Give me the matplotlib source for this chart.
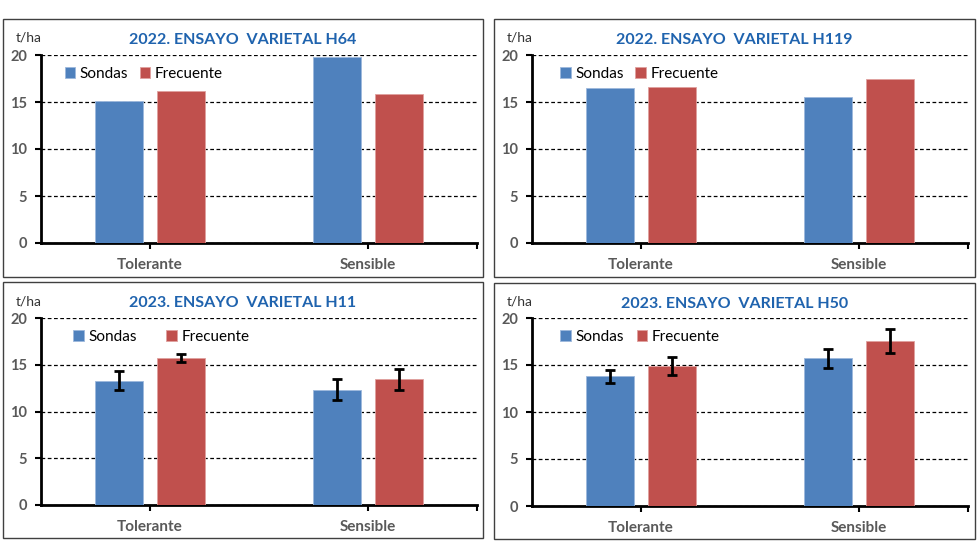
import matplotlib.pyplot as plt
import numpy as np
from matplotlib.patches import Rectangle

plt.rcParams['font.family'] = ['Lato', 'DejaVu Sans']

categorias = ['Tolerante', 'Sensible']
series = ['Sondas', 'Frecuente']
titulos = ['2022. ENSAYO  VARIETAL H64', '2022. ENSAYO  VARIETAL H119',
           '2023. ENSAYO  VARIETAL H11', '2023. ENSAYO  VARIETAL H50']

# rendimiento t/ha (Tolerante, Sensible)
h64_sondas = [15.1, 19.75]
h64_frecuente = [16.2, 15.8]
h119_sondas = [16.5, 15.55]
h119_frecuente = [16.6, 17.45]
h11_sondas = [13.3, 12.35]
h11_frecuente = [15.75, 13.45]
h50_sondas = [13.8, 15.7]
h50_frecuente = [14.9, 17.55]

# errores (solo 2023)
h11_err_sondas = [1.0, 1.15]
h11_err_frecuente = [0.45, 1.12]
h50_err_sondas = [0.7, 1.03]
h50_err_frecuente = [0.95, 1.3]

datos = [
    (h64_sondas, h64_frecuente, None, None),
    (h119_sondas, h119_frecuente, None, None),
    (h11_sondas, h11_frecuente, h11_err_sondas, h11_err_frecuente),
    (h50_sondas, h50_frecuente, h50_err_sondas, h50_err_frecuente),
]

azul = '#4F81BD'
rojo = '#C0504D'
gris = '#595959'
azul_titulo = '#1F63AE'

fig = plt.figure(figsize=(9.8, 5.6), dpi=100)
W, H = 980, 560

# posiciones en pixeles: caja del panel y ejes (x0, y0, x1, y1)
cajas = [(3, 19, 483, 277), (494, 19, 975, 277), (3, 282, 483, 538), (494, 283, 975, 539)]
ejes = [(41, 55, 477, 243), (532, 55, 968, 243), (41, 318, 477, 505), (532, 318, 968, 506)]
leyenda_x = [0.04, 0.05, 0.06, 0.05]
leyenda_esp = [0.75, 0.75, 1.9, 0.85]

x = np.arange(len(categorias))
ancho = 0.22
desp = 0.142

for i in range(4):
    bx0, by0, bx1, by1 = cajas[i]
    fig.patches.append(Rectangle((bx0 / W, 1 - by1 / H), (bx1 - bx0) / W, (by1 - by0) / H,
                                 transform=fig.transFigure, fill=False,
                                 edgecolor='#404040', linewidth=1.0))
    ex0, ey0, ex1, ey1 = ejes[i]
    ax = fig.add_axes([ex0 / W, 1 - ey1 / H, (ex1 - ex0) / W, (ey1 - ey0) / H])
    s, f, es, ef = datos[i]
    ekw = dict(ecolor='black', elinewidth=2, capsize=3.5, capthick=2)
    ax.bar(x - desp, s, ancho, color=azul, edgecolor='#9DB8DC', linewidth=0.6,
           yerr=es, error_kw=ekw, label=series[0], zorder=3)
    ax.bar(x + desp, f, ancho, color=rojo, edgecolor='#E0A09E', linewidth=0.6,
           yerr=ef, error_kw=ekw, label=series[1], zorder=3)
    ax.set_xlim(-0.5, 1.5)
    ax.set_ylim(0, 20)
    ax.set_yticks([0, 5, 10, 15, 20])
    ax.yaxis.grid(True, linestyle=(0, (3, 2)), color='black', linewidth=0.9)
    ax.set_axisbelow(True)
    for lado in ['top', 'right']:
        ax.spines[lado].set_visible(False)
    ax.spines['left'].set_linewidth(2)
    ax.spines['bottom'].set_linewidth(2)
    ax.set_xticks(x)
    ax.set_xticks([1.5], minor=True)
    ax.set_xticklabels(categorias, fontsize=11, fontweight='bold', color=gris)
    ax.tick_params(axis='x', which='both', length=4, width=1.5, pad=7)
    ax.tick_params(axis='y', length=4, width=1.5, labelsize=10.5, labelcolor=gris, pad=6)
    for t in ax.get_yticklabels():
        t.set_fontweight('bold')
    ax.legend(loc='upper left', bbox_to_anchor=(leyenda_x[i], 0.97), ncol=2, frameon=False,
              fontsize=11, handlelength=0.7, handleheight=0.7, handletextpad=0.3,
              columnspacing=leyenda_esp[i], borderaxespad=0)
    # titulo y unidad
    fig.text(((bx0 + bx1) / 2) / W, 1 - (by0 + 21) / H, titulos[i], ha='center', va='center',
             fontsize=11.5, fontweight='bold', color=azul_titulo)
    fig.text((bx0 + 13) / W, 1 - (by0 + 19) / H, 't/ha', ha='left', va='center',
             fontsize=10, color='#333333')

fig.savefig('out.png', dpi=100)
